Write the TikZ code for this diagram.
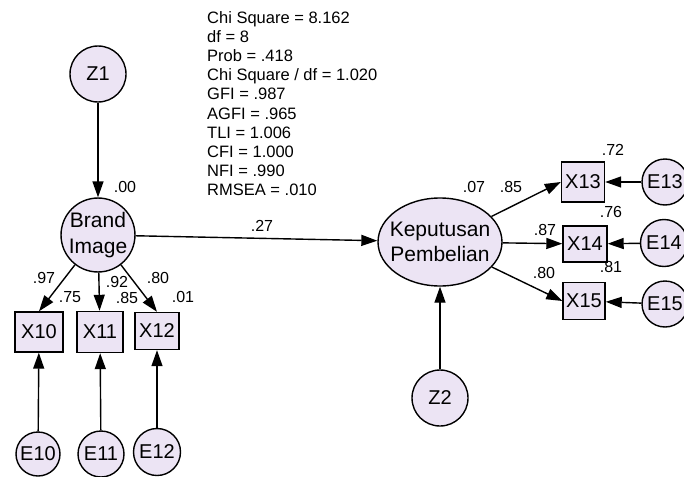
\documentclass[tikz,border=0pt]{standalone}
\usepackage{fontspec}
\setmainfont{Liberation Sans}
\usetikzlibrary{arrows.meta,shapes.geometric}
\definecolor{nodefill}{RGB}{236,228,244}
\begin{document}
\begin{tikzpicture}[x=1pt,y=-1pt,
  lat/.style={circle,draw,fill=nodefill,line width=1.4pt,inner sep=0pt,font=\fontsize{20}{22}\selectfont},
  obs/.style={rectangle,draw,fill=nodefill,line width=1.4pt,inner sep=0pt,font=\fontsize{20}{22}\selectfont},
  arr/.style={-{Triangle[length=16pt,width=11pt]},line width=1.4pt},
  lbl/.style={font=\fontsize{16}{18}\selectfont,inner sep=0pt}]
\useasboundingbox (0,0) rectangle (684,476);
% fit statistics
\node[anchor=north west,inner sep=0pt,align=left,font=\fontsize{16.5}{19.2}\selectfont] (fit) at (207,11)
 {Chi Square = 8.162\\ df = 8\\ Prob = .418\\ Chi Square / df = 1.020\\ GFI = .987\\ AGFI = .965\\ TLI = 1.006\\ CFI = 1.000\\ NFI = .990\\ RMSEA = .010};
% latent nodes
\node[lat,minimum size=56pt] (Z1) at (98,74) {Z1};
\node[lat,minimum size=70pt,align=center,font=\fontsize{21}{26}\selectfont] (BI) at (98,235) {Brand\\Image};
\node[ellipse,draw,fill=nodefill,line width=1.4pt,inner sep=0pt,minimum width=124pt,minimum height=88pt] (KP) at (440,242) {};
\node[align=center,inner sep=0pt,font=\fontsize{21}{25}\selectfont] (KPt) at (440,242) {Keputusan\\Pembelian};
\node[lat,minimum size=56pt] (Z2) at (440,398) {Z2};
% observed
\node[obs,minimum width=48pt,minimum height=40pt] (X10) at (39,332) {X10};
\node[obs,minimum width=46pt,minimum height=41pt] (X11) at (100,332) {X11};
\node[obs,minimum width=44pt,minimum height=37pt] (X12) at (157,331) {X12};
\node[obs,minimum width=43pt,minimum height=40pt] (X13) at (583,182) {X13};
\node[obs,minimum width=44pt,minimum height=36pt] (X14) at (585,244) {X14};
\node[obs,minimum width=42pt,minimum height=37pt] (X15) at (584,301) {X15};
% errors
\node[lat,minimum size=44pt] (E10) at (38,454) {E10};
\node[lat,minimum size=46pt] (E11) at (101,454) {E11};
\node[lat,minimum size=47pt] (E12) at (157,452) {E12};
\node[lat,minimum size=46pt] (E13) at (665,182) {E13};
\node[lat,minimum size=47pt] (E14) at (664,243) {E14};
\node[lat,minimum size=46pt] (E15) at (665,304) {E15};
% paths
\draw[arr] (Z1) -- (BI);
\draw[arr] (BI) -- (X10.north);
\draw[arr] (BI) -- (X11);
\draw[arr] (BI) -- (X12.north);
\draw[arr] (E10) -- (X10);
\draw[arr] (E11) -- (X11);
\draw[arr] (E12) -- (X12);
\draw[arr] (BI) -- (KP);
\draw[arr] (Z2) -- (KP);
\draw[arr] (KP) -- (X13.west);
\draw[arr] (KP) -- (X14);
\draw[arr] (KP) -- (X15.west);
\draw[arr] (E13) -- (X13);
\draw[arr] (E14) -- (X14);
\draw[arr] (E15) -- (X15);
% labels
\node[lbl] (l1) at (125,187) {.00};
\node[lbl] (l2) at (44,278) {.97};
\node[lbl] (l3) at (70,297) {.75};
\node[lbl] (l4) at (117,282) {.92};
\node[lbl] (l5) at (127,298) {.85};
\node[lbl] (l6) at (158,278) {.80};
\node[lbl] (l7) at (183,297) {.01};
\node[lbl] (l8) at (262,226) {.27};
\node[lbl] (l9) at (474,187) {.07};
\node[lbl] (l10) at (511,187) {.85};
\node[lbl] (l11) at (613,150) {.72};
\node[lbl] (l12) at (545,230) {.87};
\node[lbl] (l13) at (611,212) {.76};
\node[lbl] (l14) at (544,273) {.80};
\node[lbl] (l15) at (611,267) {.81};
\end{tikzpicture}
\end{document}
